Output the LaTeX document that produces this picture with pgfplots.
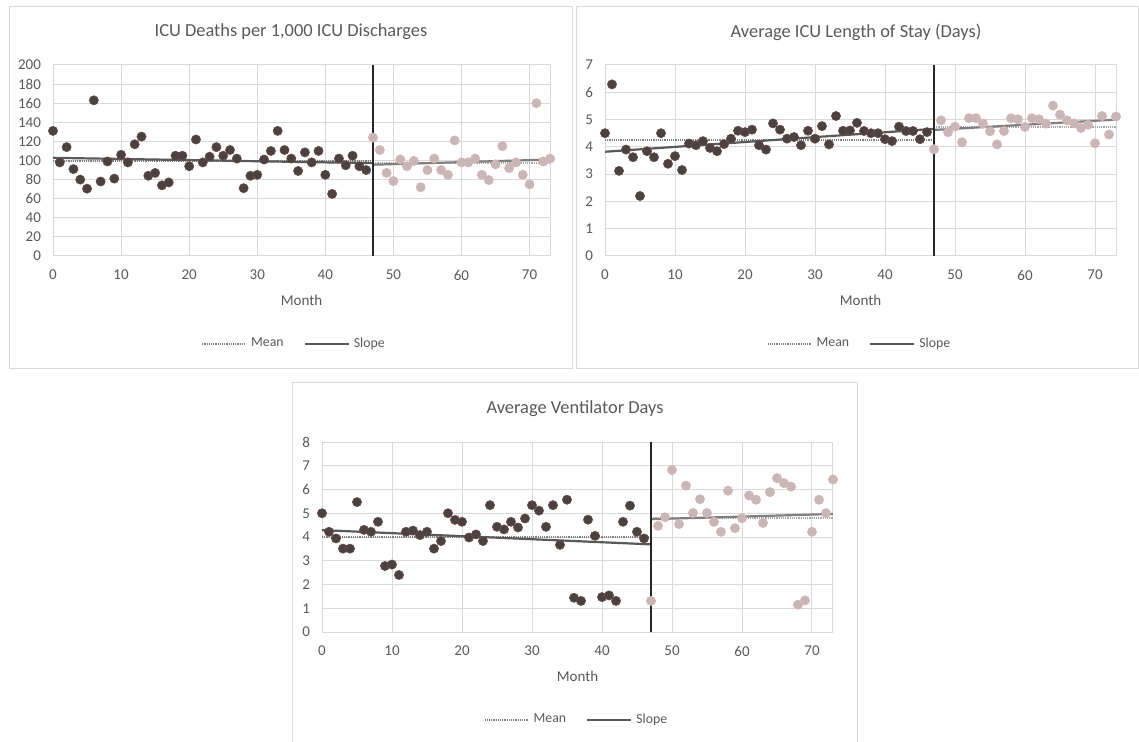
\documentclass[border=0pt]{standalone}
\usepackage{pgfplots}
\usepackage{pgfplotstable}
\pgfplotsset{compat=1.18}
\usepackage{fontspec}
\setmainfont{Carlito}

\definecolor{txtgray}{HTML}{595959}
\definecolor{gridgray}{HTML}{D9D9D9}
\definecolor{darkpt}{HTML}{4A4242}
\definecolor{darkedge}{HTML}{6E4A4A}
\definecolor{lightpt}{HTML}{C6B8B8}
\definecolor{lightedge}{HTML}{DFB0B0}
\definecolor{slopepre}{HTML}{595959}
\definecolor{slopepost}{HTML}{7F7F7F}
\definecolor{meanpre}{HTML}{7F7F7F}
\definecolor{meanpost}{HTML}{A6A6A6}

% month / value, before and after month 47
\pgfplotstableread{
m v
0 131
1 98
2 114
3 91
4 80
5 70.5
6 163
7 78
8 99
9 81
10 106
11 98
12 117
13 125
14 84
15 87
16 74
17 77
18 105
19 105
20 94
21 122
22 98
23 104
24 114
25 105
26 111
27 102
28 71
29 84
30 85
31 101
32 110
33 131
34 111
35 102
36 89
37 108.5
38 98
39 110
40 85
41 65
42 102
43 95
44 105
45 94
46 90
}\deathsPre
\pgfplotstableread{
m v
47 124
48 111
49 87
50 78.5
51 101
52 94
53 99.5
54 72
55 90
56 102
57 90
58 85
59 121
60 98
61 98
62 102
63 85
64 79.5
65 96
66 115
67 92
68 98
69 85
70 75
71 160
72 99
73 102
}\deathsPost

\pgfplotstableread{
m v
0 4.50
1 6.29
2 3.12
3 3.90
4 3.62
5 2.20
6 3.84
7 3.62
8 4.50
9 3.38
10 3.66
11 3.15
12 4.12
13 4.06
14 4.21
15 3.96
16 3.84
17 4.10
18 4.30
19 4.59
20 4.54
21 4.63
22 4.06
23 3.90
24 4.86
25 4.63
26 4.30
27 4.36
28 4.06
29 4.59
30 4.30
31 4.76
32 4.09
33 5.13
34 4.59
35 4.60
36 4.88
37 4.58
38 4.50
39 4.50
40 4.28
41 4.21
42 4.74
43 4.58
44 4.58
45 4.28
46 4.54
}\losPre
\pgfplotstableread{
m v
47 3.91
48 4.97
49 4.54
50 4.74
51 4.17
52 5.05
53 5.05
54 4.85
55 4.57
56 4.09
57 4.58
58 5.05
59 5.01
60 4.73
61 5.05
62 5.01
63 4.85
64 5.51
65 5.18
66 4.97
67 4.86
68 4.69
69 4.81
70 4.13
71 5.13
72 4.45
73 5.11
}\losPost

\pgfplotstableread{
m v
0 5.00
1 4.22
2 3.94
3 3.51
4 3.51
5 5.47
6 4.30
7 4.22
8 4.64
9 2.78
10 2.84
11 2.40
12 4.22
13 4.27
14 4.08
15 4.22
16 3.51
17 3.83
18 5.00
19 4.72
20 4.64
21 3.98
22 4.11
23 3.83
24 5.34
25 4.43
26 4.32
27 4.64
28 4.40
29 4.78
30 5.34
31 5.11
32 4.43
33 5.34
34 3.67
35 5.57
36 1.44
37 1.31
38 4.73
39 4.05
40 1.47
41 1.54
42 1.31
43 4.64
44 5.32
45 4.22
46 3.94
}\ventPre
\pgfplotstableread{
m v
47 1.31
48 4.47
49 4.83
50 6.82
51 4.54
52 6.16
53 5.01
54 5.59
55 5.01
56 4.64
57 4.22
58 5.95
59 4.37
60 4.79
61 5.75
62 5.57
63 4.59
64 5.89
65 6.48
66 6.27
67 6.12
68 1.15
69 1.33
70 4.22
71 5.57
72 5.01
73 6.42
}\ventPost

\pgfplotsset{
  panel/.style={
    scale only axis,
    xmin=0, xmax=73, ymin=0,
    xtick={0,10,...,70},
    grid=major,
    grid style={gridgray, line width=0.5pt},
    axis line style={gridgray, line width=0.5pt},
    major tick length=0pt,
    tick label style={font=\fontsize{7.5}{8}\selectfont, text=txtgray},
    xticklabel style={yshift=-3.5pt},
    yticklabel style={xshift=-2.5pt},
    /pgf/number format/assume math mode=true,
    xlabel={Month},
    xlabel style={font=\fontsize{7.5}{9}\selectfont, text=txtgray,
      at={(axis description cs:0.5,0)}, anchor=center, yshift=-22pt},
    legend style={draw=none, fill=none, font=\fontsize{6.9}{8}\selectfont,
      text=txtgray, legend columns=2, anchor=center,
      /tikz/every even column/.append style={column sep=8pt}},
    legend image code/.code={\draw[##1] (0pt,0pt) -- (22pt,0pt);},
  },
  pre/.style={only marks, mark=*, mark size=2.3pt,
    mark options={fill=darkpt, draw=darkedge, line width=0.3pt}},
  post/.style={only marks, mark=*, mark size=2.3pt,
    mark options={fill=lightpt, draw=lightedge, line width=0.3pt}},
  meanA/.style={meanpre, line width=0.9pt, dash pattern=on 0.6pt off 0.5pt},
  meanB/.style={meanpost, line width=0.9pt, dash pattern=on 0.6pt off 0.5pt},
  slopeA/.style={slopepre, line width=1.1pt},
  slopeB/.style={slopepost, line width=1.1pt},
  cut/.style={black!85, line width=0.55pt},
}

\begin{document}
\begin{tikzpicture}
\useasboundingbox (0,0) rectangle (569.5pt,-371pt);

% chart frames
\draw[gridgray, line width=0.5pt] (4.75pt,-3.5pt) rectangle (286pt,-184.5pt);
\draw[gridgray, line width=0.5pt] (288pt,-3.5pt) rectangle (569pt,-184.5pt);
\draw[gridgray, line width=0.5pt] (146pt,-371pt) -- (146pt,-191.5pt) -- (428.5pt,-191.5pt) -- (428.5pt,-371pt);

\node[font=\fontsize{9.2}{11}\selectfont, text=txtgray] at (145.5pt,-16pt) {ICU Deaths per 1,000 ICU Discharges};
\node[font=\fontsize{9.2}{11}\selectfont, text=txtgray] at (428pt,-16pt) {Average ICU Length of Stay (Days)};
\node[font=\fontsize{9.2}{11}\selectfont, text=txtgray] at (287.5pt,-204.5pt) {Average Ventilator Days};

% ICU deaths
\begin{axis}[panel, at={(26.5pt,-128pt)}, anchor=south west,
  width=248.5pt, height=95.5pt, ymax=200, ytick={0,20,...,200},
  legend style={at={(axis description cs:0.487,-0.46)}}]
\addlegendimage{meanA}
\addlegendentry{Mean}
\addlegendimage{slopeA}
\addlegendentry{Slope}
\addplot[pre] table[x=m, y=v] {\deathsPre};
\addplot[post] table[x=m, y=v] {\deathsPost};
\addplot[meanA] coordinates {(0,99.3) (47,99.3)};
\addplot[meanB] coordinates {(47,97.6) (73,97.6)};
\addplot[slopeA] coordinates {(0,102.8) (47,97.2)};
\addplot[slopeB] coordinates {(47,95.6) (73,101)};
\addplot[cut] coordinates {(47,0) (47,200)};
\end{axis}

% ICU length of stay
\begin{axis}[panel, at={(302.5pt,-128pt)}, anchor=south west,
  width=255.5pt, height=95.5pt, ymax=7, ytick={0,1,...,7},
  legend style={at={(axis description cs:0.5,-0.46)}}]
\addlegendimage{meanA}
\addlegendentry{Mean}
\addlegendimage{slopeA}
\addlegendentry{Slope}
\addplot[pre] table[x=m, y=v] {\losPre};
\addplot[post] table[x=m, y=v] {\losPost};
\addplot[meanA] coordinates {(0,4.24) (47,4.24)};
\addplot[meanB] coordinates {(47,4.73) (73,4.73)};
\addplot[slopeA] coordinates {(0,3.82) (47,4.66)};
\addplot[slopeB] coordinates {(47,4.62) (73,5.0)};
\addplot[cut] coordinates {(47,0) (47,7)};
\end{axis}

% ventilator days
\begin{axis}[panel, at={(161pt,-316pt)}, anchor=south west,
  width=255.5pt, height=95pt, ymax=8, ytick={0,1,...,8},
  legend style={at={(axis description cs:0.5,-0.463)}}]
\addlegendimage{meanA}
\addlegendentry{Mean}
\addlegendimage{slopeA}
\addlegendentry{Slope}
\addplot[pre] table[x=m, y=v] {\ventPre};
\addplot[post] table[x=m, y=v] {\ventPost};
\addplot[meanA] coordinates {(0,3.99) (47,3.99)};
\addplot[meanB] coordinates {(47,4.80) (73,4.80)};
\addplot[slopeA] coordinates {(0,4.29) (47,3.69)};
\addplot[slopeB] coordinates {(47,4.75) (73,4.97)};
\addplot[cut] coordinates {(47,0) (47,8)};
\end{axis}
\end{tikzpicture}
\end{document}
